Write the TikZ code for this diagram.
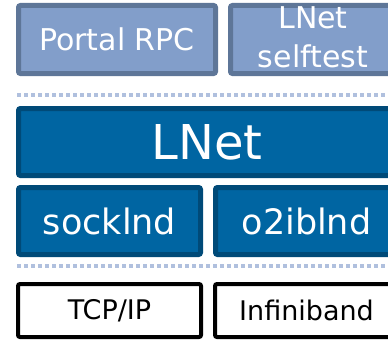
\documentclass[tikz,border=0pt]{standalone}
\usepackage{fontspec}
\setmainfont{DejaVu Sans}
\usetikzlibrary{positioning}
\definecolor{topfill}{HTML}{829ECA}
\definecolor{topedge}{HTML}{5E7698}
\definecolor{corefill}{HTML}{0065A2}
\definecolor{coreedge}{HTML}{004A78}
\definecolor{sepcolor}{HTML}{B0C0DE}

\begin{document}
\begin{tikzpicture}[
x=1pt, y=1pt,
every node/.style={
rectangle,
rounded corners=2pt,
align=center,
inner sep=0pt
},
upper/.style={draw=topedge, fill=topfill, line width=5pt, text=white,
minimum height=68pt, font=\fontsize{30}{39}\selectfont},
core/.style={draw=coreedge, fill=corefill, line width=5pt, text=white,
minimum height=67pt},
link/.style={draw=black, fill=white, line width=4pt, text=black,
minimum height=53pt, minimum width=183pt, font=\fontsize{27}{32}\selectfont},
sepline/.style={draw=sepcolor, line width=4pt, dash pattern=on 4pt off 3pt}
]
\path[use as bounding box, clip] (0,0) rectangle (388,341);

\node[upper, minimum width=197pt] (portal) at (117,301.5) {Portal RPC};
\node[upper, minimum width=165pt, text height=56pt, right=10pt of portal] (selftest) {LNet\\selftest};

\node[core, minimum width=377pt, font=\fontsize{48}{56}\selectfont,
below=30pt of portal.south west, anchor=north west] (lnet) {LNet};
\node[core, minimum width=182pt, font=\fontsize{35}{42}\selectfont,
below=7pt of lnet.south west, anchor=north west] (sock) {socklnd};
\node[core, minimum width=182pt, font=\fontsize{35}{42}\selectfont,
right=10pt of sock] (o2ib) {o2iblnd};

\node[link, below=25pt of sock] (tcp) {TCP/IP};
\node[link, below=25pt of o2ib] (ib) {Infiniband};

% layer separators
\draw[sepline] (17,246.5) -- (400,246.5);
\draw[sepline] (17,75) -- (400,75);
\end{tikzpicture}
\end{document}
